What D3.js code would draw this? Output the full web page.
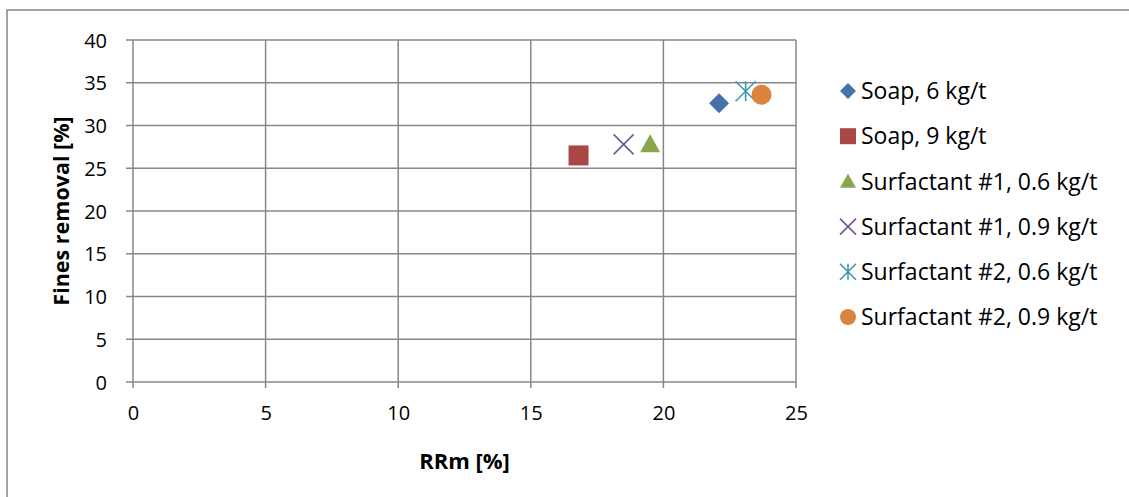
<!DOCTYPE html>
<html><head><meta charset="utf-8">
<script src="https://cdn.jsdelivr.net/npm/d3@7"></script>
<style>body{margin:0;background:#fff}svg{display:block}</style>
</head><body>
<script>
const seriesNames = ["Soap, 6 kg/t","Soap, 9 kg/t","Surfactant #1, 0.6 kg/t","Surfactant #1, 0.9 kg/t","Surfactant #2, 0.6 kg/t","Surfactant #2, 0.9 kg/t"];
const xValues = [22.1, 16.8, 19.5, 18.5, 23.1, 23.7];
const yValues = [32.6, 26.5, 27.8, 27.8, 34.0, 33.6];
const seriesColors = ["#4572A7","#AA4643","#89A54E","#71588F","#4198AF","#DB843D"];
const markerTypes = ["diamond","square","triangle","x","star","circle"];
const xTicks = [0,5,10,15,20,25];
const yTicks = [0,5,10,15,20,25,30,35,40];
const xTitle = "RRm [%]";
const yTitle = "Fines removal [%]";

const W = 1129, H = 497;
const FONT = "'Open Sans', 'Liberation Sans', sans-serif";
const svg = d3.select("body").append("svg").attr("width", W).attr("height", H);
svg.append("rect").attr("x",7).attr("y",10).attr("width",W).attr("height",H)
  .attr("fill","none").attr("stroke","#868686").attr("stroke-width",1.5);

const plot = {l:133, r:796, t:40, b:382};
const x = d3.scaleLinear().domain([0,25]).range([plot.l, plot.r]);
const y = d3.scaleLinear().domain([0,40]).range([plot.b, plot.t]);

const grid = svg.append("g");
const gc = "#878787";
grid.selectAll("line.v").data(xTicks).join("line")
  .attr("x1",d=>x(d)).attr("x2",d=>x(d)).attr("y1",plot.t).attr("y2",plot.b+6)
  .attr("stroke",gc).attr("stroke-width",1.5);
grid.selectAll("line.h").data(yTicks).join("line")
  .attr("x1",plot.l-7).attr("x2",plot.r).attr("y1",d=>y(d)).attr("y2",d=>y(d))
  .attr("stroke",gc).attr("stroke-width",1.5);

const xAxis = d3.axisBottom(x).tickValues(xTicks).tickSize(0).tickPadding(0);
const gx = svg.append("g").attr("transform",`translate(0,${plot.b})`).call(xAxis);
gx.select(".domain").remove();
gx.selectAll("text").attr("font-family",FONT).attr("font-size",20).attr("fill","#000")
  .attr("dy",null).attr("y",38);
const yAxis = d3.axisLeft(y).tickValues(yTicks).tickSize(0).tickPadding(0);
const gy = svg.append("g").attr("transform",`translate(${plot.l},0)`).call(yAxis);
gy.select(".domain").remove();
gy.selectAll("text").attr("font-family",FONT).attr("font-size",20).attr("fill","#000")
  .attr("x",-26).attr("dy","0.36em");

svg.append("text").attr("x",(plot.l+plot.r)/2).attr("y",469).attr("text-anchor","middle")
  .attr("font-family",FONT).attr("font-size",22).attr("font-weight","bold").text(xTitle);
svg.append("text").attr("transform",`translate(69,${(plot.t+plot.b)/2}) rotate(-90)`)
  .attr("text-anchor","middle").attr("font-family",FONT).attr("font-size",21.5).attr("font-weight","bold").text(yTitle);

function drawMarker(g, type, color, s){
  const h = s/2;
  if(type==="diamond") g.append("path").attr("d",`M0,${-h}L${h},0L0,${h}L${-h},0Z`).attr("fill",color);
  else if(type==="square") g.append("rect").attr("x",-h).attr("y",-h).attr("width",s).attr("height",s).attr("fill",color);
  else if(type==="triangle") g.append("path").attr("d",`M0,${-h}L${h},${h*0.8}L${-h},${h*0.8}Z`).attr("fill",color);
  else if(type==="circle") g.append("circle").attr("r",h).attr("fill",color);
  else if(type==="x") g.append("path").attr("d",`M${-h},${-h}L${h},${h}M${-h},${h}L${h},${-h}`).attr("stroke",color).attr("stroke-width",1.6).attr("fill","none");
  else if(type==="star") g.append("path").attr("d",`M${-h},${-h}L${h},${h}M${-h},${h}L${h},${-h}M0,${-h}L0,${h}`).attr("stroke",color).attr("stroke-width",1.6).attr("fill","none");
}

const pts = svg.append("g");
seriesNames.forEach((n,i)=>{
  const g = pts.append("g").attr("transform",`translate(${x(xValues[i])},${y(yValues[i])})`);
  drawMarker(g, markerTypes[i], seriesColors[i], 20);
});

const leg = svg.append("g");
seriesNames.forEach((n,i)=>{
  const cy = 91 + i*45.2;
  const g = leg.append("g").attr("transform",`translate(848,${cy})`);
  drawMarker(g, markerTypes[i], seriesColors[i], 16);
  leg.append("text").attr("x",861).attr("y",cy).attr("dy","0.36em")
    .attr("font-family",FONT).attr("font-size",23).attr("fill","#000").text(n);
});
</script>
</body></html>
